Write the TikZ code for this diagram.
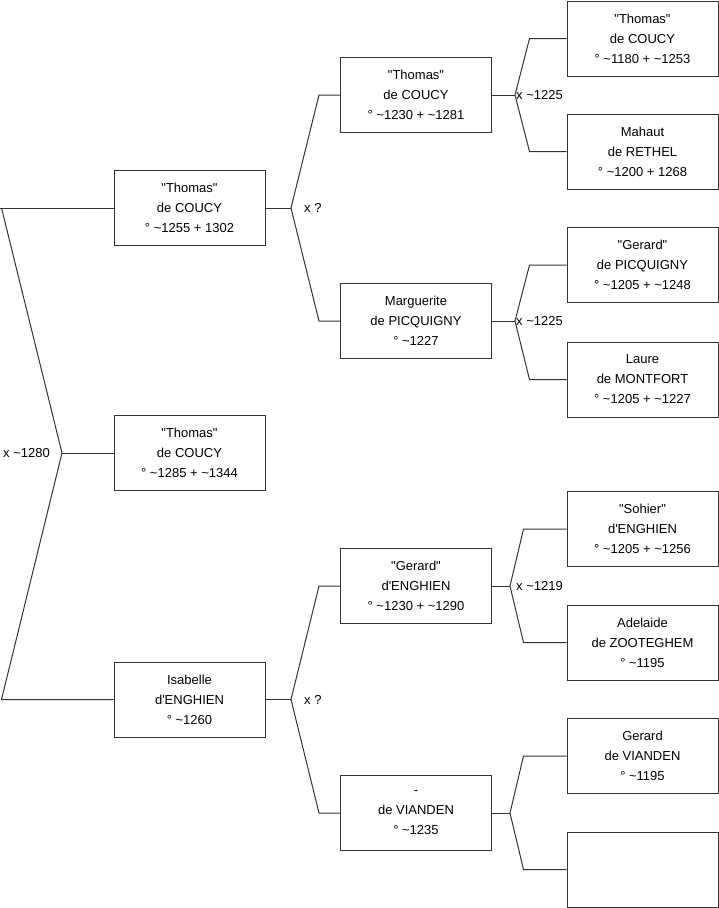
\documentclass[tikz,border=0pt]{standalone}
\usepackage{fontspec}
\setmainfont{Liberation Sans}
\usepackage{tikz}
\usetikzlibrary{calc}
\definecolor{LineGray}{HTML}{333333}
\newcommand{\boxfont}{\fontsize{13}{20}\selectfont}
\newcommand{\tld}{\textasciitilde}
\newcommand{\qq}[1]{\textquotedbl #1\textquotedbl}
\tikzset{
  person/.style={draw=LineGray, line width=1pt, fill=white, minimum width=151pt,
    minimum height=75pt, align=center, font=\boxfont, text=black},
  link/.style={draw=LineGray, line width=1pt},
  union/.style={inner sep=0pt, font=\boxfont, text=black}
}

\begin{document}
\begin{tikzpicture}[x=1pt,y=-1pt]
  \useasboundingbox (0,0) rectangle (719,908);

  %% generation 1
  \node[person] (coucyA) at (189.5,208) {\qq{Thomas}\\de COUCY\\° \tld1255 + 1302};
  \node[person] (coucyB) at (189.5,453) {\qq{Thomas}\\de COUCY\\° \tld1285 + \tld1344};
  \node[person] (isabelle) at (189.5,699.5) {Isabelle\\d\textquotesingle ENGHIEN\\° \tld1260};

  %% generation 2
  \node[person] (coucyC) at (416,95) {\qq{Thomas}\\de COUCY\\° \tld1230 + \tld1281};
  \node[person] (marguerite) at (416,321) {Marguerite\\de PICQUIGNY\\° \tld1227};
  \node[person] (gerardE) at (416,586) {\qq{Gerard}\\d\textquotesingle ENGHIEN\\° \tld1230 + \tld1290};
  \node[person] (vianden) at (416,813) {-\\de VIANDEN\\° \tld1235};

  %% generation 3
  \node[person] (coucyD) at (642.5,38.5) {\qq{Thomas}\\de COUCY\\° \tld1180 + \tld1253};
  \node[person] (mahaut) at (642.5,151.5) {Mahaut\\de RETHEL\\° \tld1200 + 1268};
  \node[person] (gerardP) at (642.5,265) {\qq{Gerard}\\de PICQUIGNY\\° \tld1205 + \tld1248};
  \node[person] (laure) at (642.5,379.5) {Laure\\de MONTFORT\\° \tld1205 + \tld1227};
  \node[person] (sohier) at (642.5,529) {\qq{Sohier}\\d\textquotesingle ENGHIEN\\° \tld1205 + \tld1256};
  \node[person] (adelaide) at (642.5,642.5) {Adelaide\\de ZOOTEGHEM\\° \tld1195};
  \node[person] (gerardV) at (642.5,756) {Gerard\\de VIANDEN\\° \tld1195};
  \node[person] (unknown) at (642.5,869.5) {};

  %% fork points
  \coordinate (u0) at (62,453);
  \coordinate (u1) at (291,208);
  \coordinate (u2) at (291,699.5);
  \coordinate (u3) at (515,95);
  \coordinate (u4) at (515,321);
  \coordinate (u5) at (510,586);
  \coordinate (u6) at (510,813);

  %% root couple
  \draw[link] (coucyA.west) -- (0,208);
  \draw[link] ([xshift=-112pt]coucyA.west) -- (u0) -- ([xshift=-112pt]isabelle.west) -- (isabelle.west);
  \draw[link] (u0) -- (coucyB.west);
  \node[union, anchor=east] at ([xshift=-12pt]u0) {x \tld1280};

  %% generation 1 couples
  \draw[link] (coucyA.east) -- (u1);
  \draw[link] (coucyC.west) -- ([xshift=-21pt]coucyC.west) -- (u1) -- ([xshift=-21pt]marguerite.west) -- (marguerite.west);
  \node[union, anchor=west] at ([xshift=13pt]u1) {x ?};

  \draw[link] (isabelle.east) -- (u2);
  \draw[link] (gerardE.west) -- ([xshift=-21pt]gerardE.west) -- (u2) -- ([xshift=-21pt]vianden.west) -- (vianden.west);
  \node[union, anchor=west] at ([xshift=13pt]u2) {x ?};

  %% generation 2 couples
  \draw[link] (coucyC.east) -- (u3);
  \draw[link] (coucyD.west) -- ([xshift=-37pt]coucyD.west) -- (u3) -- ([xshift=-37pt]mahaut.west) -- (mahaut.west);
  \node[union, anchor=west] at ([xshift=1pt]u3) {x \tld1225};

  \draw[link] (marguerite.east) -- (u4);
  \draw[link] (gerardP.west) -- ([xshift=-37pt]gerardP.west) -- (u4) -- ([xshift=-37pt]laure.west) -- (laure.west);
  \node[union, anchor=west] at ([xshift=1pt]u4) {x \tld1225};

  \draw[link] (gerardE.east) -- (u5);
  \draw[link] (sohier.west) -- ([xshift=-43pt]sohier.west) -- (u5) -- ([xshift=-43pt]adelaide.west) -- (adelaide.west);
  \node[union, anchor=west] at ([xshift=6pt]u5) {x \tld1219};

  \draw[link] (vianden.east) -- (u6);
  \draw[link] (gerardV.west) -- ([xshift=-43pt]gerardV.west) -- (u6) -- ([xshift=-43pt]unknown.west) -- (unknown.west);
\end{tikzpicture}
\end{document}
